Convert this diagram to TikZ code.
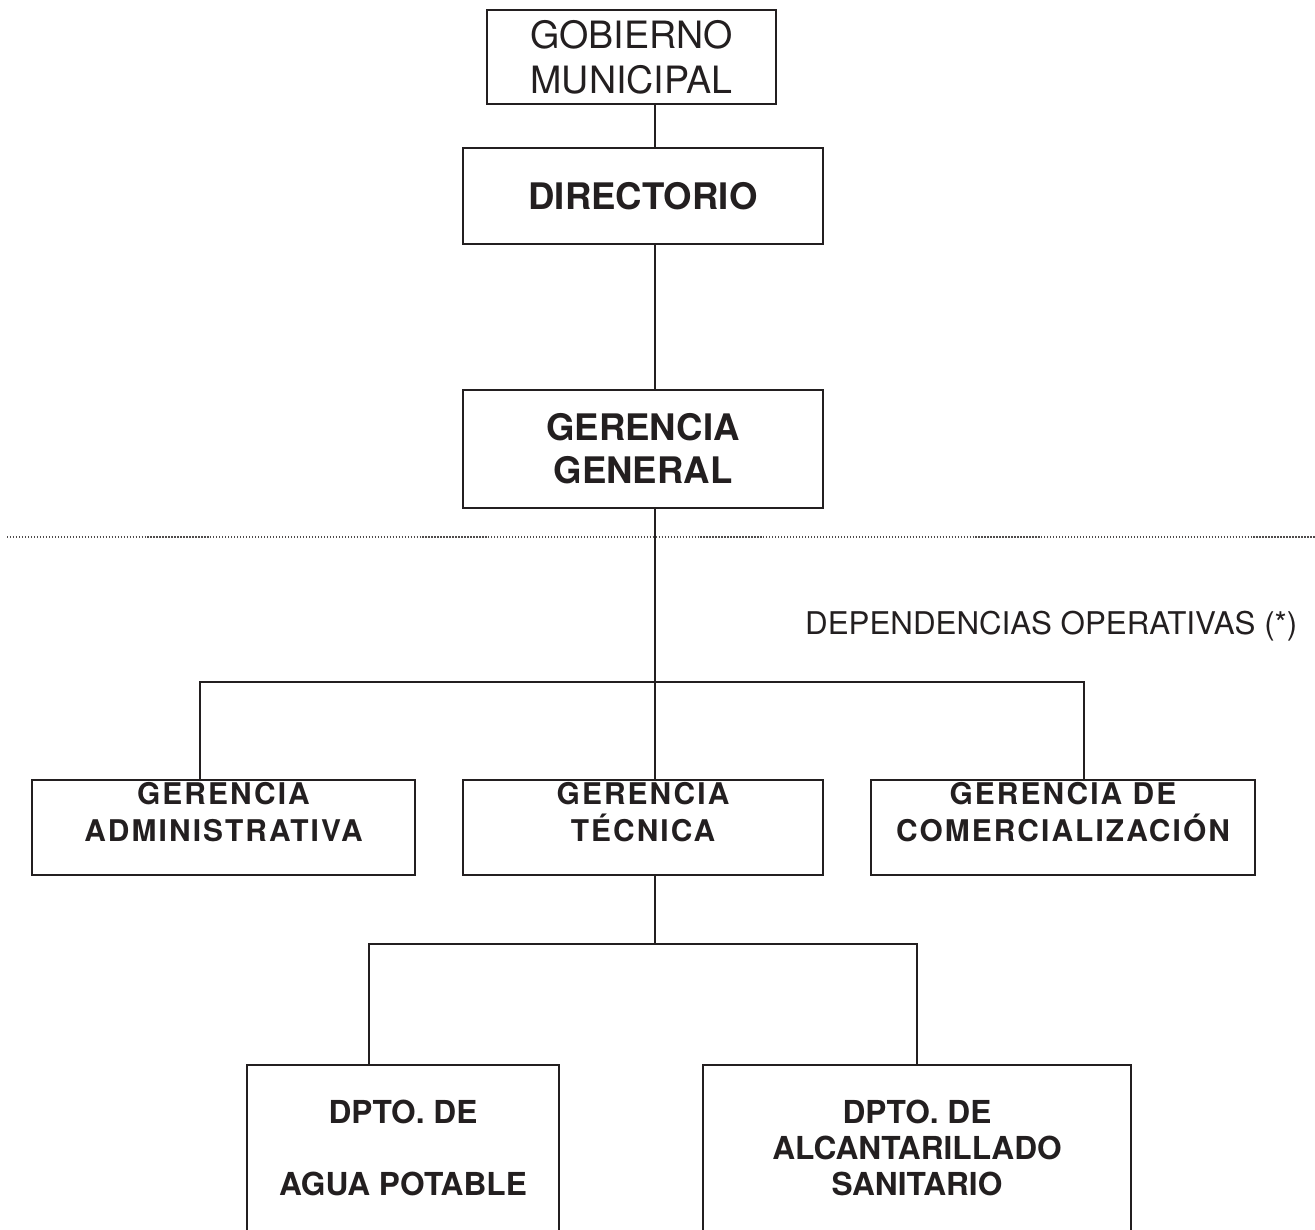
\documentclass[tikz,border=0pt]{standalone}
\usepackage{fontspec}
\setmainfont{TeX Gyre Heros}
\usetikzlibrary{positioning}
\definecolor{tinta}{RGB}{35,31,32}
\begin{document}
\begin{tikzpicture}[x=0.01cm,y=-0.01cm,
  caja/.style={draw=tinta, text=tinta, line width=0.45pt, align=center, inner sep=0pt},
  jefe/.style={caja, minimum width=3.6cm, font=\bfseries\fontsize{10.4}{12.2}\selectfont},
  gerencia/.style={caja, minimum height=0.95cm, font=\bfseries\fontsize{8.5}{10.5}\selectfont\addfontfeature{LetterSpace=7}},
  dpto/.style={caja, minimum height=2.02cm, font=\bfseries\fontsize{9}{10.2}\selectfont},
  linea/.style={draw=tinta, line width=0.45pt}]
\path[use as bounding box, clip] (0,0) rectangle (1315,1229);

\node[caja, minimum width=2.89cm, minimum height=0.94cm, font=\fontsize{10.7}{12.8}\selectfont] (gob) at (631.5,57) {GOBIERNO\\MUNICIPAL};
\node[jefe, minimum height=0.96cm] (dir) at (643,196) {DIRECTORIO};
\node[jefe, minimum height=1.18cm] (gg) at (643,449) {GERENCIA\\GENERAL};

\node[gerencia, minimum width=3.83cm] (adm) at (223.5,827.5) {GERENCIA\\ADMINISTRATIVA\\[-1.4pt]\mbox{}};
\node[gerencia, minimum width=3.6cm] (tec) at (643,827.5) {GERENCIA\\TÉCNICA\\[-1.4pt]\mbox{}};
\node[gerencia, minimum width=3.84cm] (com) at (1063,827.5) {GERENCIA DE\\COMERCIALIZACIÓN\\[-1.4pt]\mbox{}};

\node[dpto, minimum width=3.12cm] (agua) at (403,1166) {DPTO. DE\\\mbox{}\\AGUA POTABLE\\\mbox{}};
\node[dpto, minimum width=4.28cm] (alc) at (917,1166) {DPTO. DE\\ALCANTARILLADO\\SANITARIO\\\mbox{}};

\node[anchor=east, inner sep=0pt, text=tinta, font=\fontsize{8.9}{10}\selectfont] (dep) at (1298,626) {DEPENDENCIAS OPERATIVAS (*)};

\draw[tinta!80, line width=0.5pt, dash pattern=on 0.35pt off 0.5pt] (7,537) -- (1315,537);

\coordinate (eje) at (655,0);
\coordinate (ramaA) at (200,682);
\coordinate (ramaC) at (1084,682);
\coordinate (ramaT) at (655,944);
\coordinate (ramaL) at (369,944);
\coordinate (ramaR) at (917,944);

\path[linea] (gob.south -| eje) -- (dir.north -| eje);
\path[linea] (dir.south -| eje) -- (gg.north -| eje);
\path[linea] (gg.south -| eje) -- (tec.north -| eje);
\path[linea] (ramaA |- adm.north) -- (ramaA) -- (ramaC) -- (ramaC |- com.north);
\path[linea] (tec.south -| eje) -- (ramaT);
\path[linea] (ramaL |- agua.north) -- (ramaL) -- (ramaR) -- (ramaR |- alc.north);
\end{tikzpicture}
\end{document}
